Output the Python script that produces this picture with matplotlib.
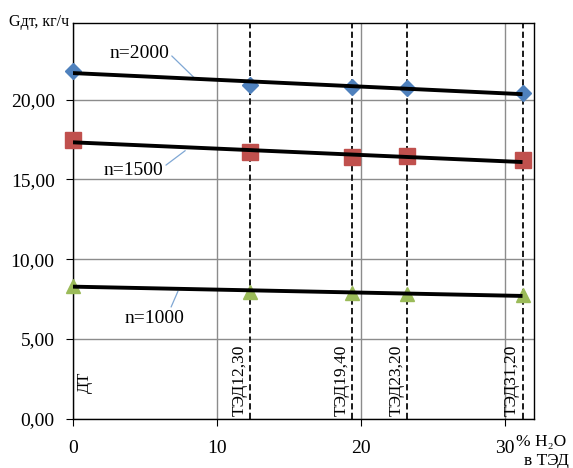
import numpy as np
import matplotlib
matplotlib.use("Agg")
import matplotlib.pyplot as plt

plt.rcParams['font.family'] = ['Liberation Serif', 'DejaVu Serif']

# Data
x_h2o = [0, 12.3, 19.4, 23.2, 31.2]
fuel_labels = ["ДТ", "ТЭД12,30", "ТЭД19,40", "ТЭД23,20", "ТЭД31,20"]
g_2000 = [21.8, 20.9, 20.8, 20.75, 20.4]
g_1500 = [17.45, 16.7, 16.4, 16.45, 16.2]
g_1000 = [8.35, 7.95, 7.9, 7.85, 7.75]
series_names = ["n=2000", "n=1500", "n=1000"]
y_ticks = [0, 5, 10, 15, 20]
y_tick_labels = ["0,00", "5,00", "10,00", "15,00", "20,00"]
x_ticks = [0, 10, 20, 30]

fig = plt.figure(figsize=(5.73, 4.68), dpi=100)
ax = fig.add_axes([0.127, 0.105, 0.805, 0.846])

ax.set_xlim(0, 32)
ax.set_ylim(0, 24.8)

# grid
ax.set_yticks(y_ticks)
ax.set_yticklabels(y_tick_labels)
ax.set_xticks(x_ticks)
ax.grid(True, color='#8c8c8c', lw=1.0)
ax.set_axisbelow(True)
for s in ax.spines.values():
    s.set_color('black')
    s.set_linewidth(1.0)
ax.tick_params(axis='both', labelsize=14, length=5, color='black')
ax.tick_params(axis='x', pad=10)
ax.tick_params(axis='y', pad=8)

# dashed vertical lines
for xv in x_h2o:
    ax.axvline(xv, color='#1a1a1a', ls=(0, (3.2, 1.7)), lw=1.4, zorder=2)

# markers
ax.plot(x_h2o, g_2000, 'D', color='#4F81BD', ms=8, zorder=3, clip_on=False)
ax.plot(x_h2o, g_1500, 's', color='#C0504D', ms=11, zorder=3, clip_on=False)
ax.plot(x_h2o, g_1000, '^', color='#9BBB59', ms=10, zorder=3, clip_on=False)

# trend lines
xs = np.array([x_h2o[0], x_h2o[-1]])
for ys in (g_2000, g_1500, g_1000):
    k, b = np.polyfit(x_h2o, ys, 1)
    ax.plot(xs, k * xs + b, color='black', lw=2.8, zorder=4, solid_capstyle='butt')

# series labels with leader lines
lead = '#7fa7d4'
ax.annotate(series_names[0], xy=(8.5, 21.3), xytext=(4.6, 22.9),
            ha='center', va='center', fontsize=14,
            arrowprops=dict(arrowstyle='-', color=lead, lw=0.9, shrinkA=0, shrinkB=0,
                            relpos=(1.0, 0.5)))
ax.annotate(series_names[1], xy=(7.8, 16.8), xytext=(4.2, 15.55),
            ha='center', va='center', fontsize=14,
            arrowprops=dict(arrowstyle='-', color=lead, lw=0.9, shrinkA=0, shrinkB=0,
                            relpos=(1.0, 0.7)))
ax.annotate(series_names[2], xy=(7.3, 8.0), xytext=(5.7, 6.3),
            ha='center', va='center', fontsize=14,
            arrowprops=dict(arrowstyle='-', color=lead, lw=0.9, shrinkA=0, shrinkB=0,
                            relpos=(0.75, 1.0)))

# vertical fuel labels
ax.annotate(fuel_labels[0], xy=(x_h2o[0], 1.6), xytext=(3, 0), textcoords='offset points',
            rotation=90, ha='left', va='bottom', fontsize=12)
for xv, lab in zip(x_h2o[1:], fuel_labels[1:]):
    ax.annotate(lab, xy=(xv, 0.2), xytext=(-2, 0), textcoords='offset points',
                rotation=90, ha='right', va='bottom', fontsize=12.5)

# axis titles
fig.text(0.015, 0.952, "Gдт, кг/ч", fontsize=11.5, ha='left', va='center')
fig.text(0.945, 0.055, "% H₂O", fontsize=12.5, ha='center', va='center')
fig.text(0.953, 0.014, "в ТЭД", fontsize=12.5, ha='center', va='center')

fig.savefig("out.png", dpi=100)
